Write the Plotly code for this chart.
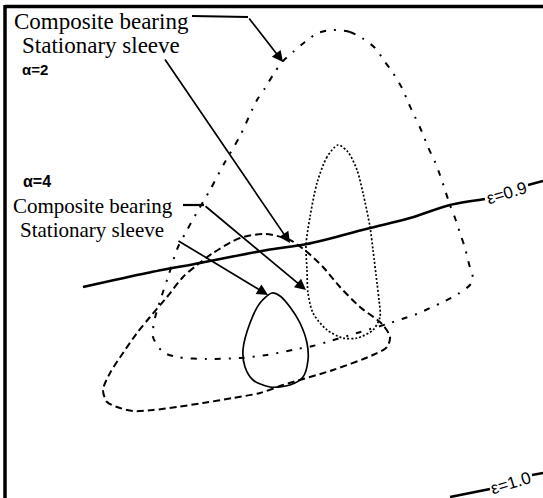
import plotly.graph_objects as go

# Orbit loci (x, y in plot units, y increasing downward)
alpha2_composite_x = [333, 350, 362, 375, 385, 393, 402, 408, 415, 422, 428, 435, 440, 445, 450, 455, 460, 465, 469, 473, 470, 458, 443, 430, 417, 402, 387, 357, 327, 313, 297, 267, 240, 207, 177, 163, 153, 155, 162, 168, 178, 186, 196, 210, 225, 240, 252, 257, 265, 273, 282, 293, 305, 318, 333]
alpha2_composite_y = [30, 32, 38, 48, 62, 73, 88, 102, 117, 132, 147, 162, 175, 190, 205, 218, 233, 248, 264, 279, 285, 294, 302, 308, 314, 319, 324, 333, 342, 346, 349, 355, 358, 359, 357, 352, 337, 318, 295, 277, 247, 232, 214, 190, 162, 136, 110, 100, 88, 75, 62, 52, 42, 33, 30]

alpha4_composite_x = [265, 240, 213, 197, 183, 167, 150, 137, 123, 110, 103, 107, 117, 133, 153, 177, 203, 233, 260, 283, 333, 373, 387, 390, 382, 360, 340, 323, 307, 290, 265]
alpha4_composite_y = [234, 238, 253, 265, 277, 297, 317, 333, 353, 373, 390, 402, 407, 411, 410, 407, 403, 398, 393, 385, 370, 355, 347, 337, 324, 307, 287, 267, 252, 240, 234]

alpha2_sleeve_x = [338, 327, 317, 310, 306, 307, 308, 313, 327, 343, 357, 373, 380, 379, 377, 373, 370, 363, 357, 348, 338]
alpha2_sleeve_y = [145, 157, 183, 217, 245, 270, 293, 313, 330, 338, 338, 330, 317, 300, 283, 250, 227, 193, 170, 152, 145]

alpha4_sleeve_x = [272, 260, 250, 243, 245, 253, 270, 290, 303, 308, 307, 300, 290, 280, 272]
alpha4_sleeve_y = [293, 303, 323, 350, 367, 380, 387, 385, 377, 360, 343, 323, 307, 296, 293]

# Eccentricity lines
eps09_x = [83, 147, 200, 267, 307, 370, 410, 450, 485]
eps09_y = [287, 273, 263, 250, 244, 228, 218, 205, 199]
eps09_tail_x = [528, 543]
eps09_tail_y = [185, 181]
eps10_x = [450, 490]
eps10_y = [497, 489]
eps10_tail_x = [532, 543]
eps10_tail_y = [475, 473]

serif = "Liberation Serif"
sans = "Liberation Sans"

fig = go.Figure()

def curve(x, y, dash, width, smooth=True):
    fig.add_trace(go.Scatter(
        x=x, y=y, mode="lines",
        line=dict(color="black", width=width, dash=dash,
                  shape="spline" if smooth else "linear", smoothing=0.8),
        hoverinfo="skip", showlegend=False))

curve(alpha2_composite_x, alpha2_composite_y, "6px,8px,2px,8px", 2.0)
curve(alpha4_composite_x, alpha4_composite_y, "7px,4px", 2.0)
curve(alpha2_sleeve_x, alpha2_sleeve_y, "2px,2px", 1.7)
curve(alpha4_sleeve_x, alpha4_sleeve_y, "solid", 1.7)
curve(eps09_x, eps09_y, "solid", 2.6)
curve(eps09_tail_x, eps09_tail_y, "solid", 2.4, False)
curve(eps10_x, eps10_y, "solid", 2.6, False)
curve(eps10_tail_x, eps10_tail_y, "solid", 2.4, False)

# Leader lines (horizontal stubs before the arrowed segments)
curve([192, 248], [16, 17], "solid", 2.2, False)
curve([183, 204], [205, 205], "solid", 2.2, False)

arrows = [
    ((248, 17), (283, 62)),
    ((164, 58), (290, 243)),
    ((204, 205), (306, 290)),
    ((177, 240), (268, 295)),
]
ann = []
for (ax, ay), (x, y) in arrows:
    ann.append(dict(x=x, y=y, ax=ax, ay=ay, xref="x", yref="y", axref="x", ayref="y",
                    text="", showarrow=True, arrowhead=2, arrowsize=1.3,
                    arrowwidth=1.7, arrowcolor="black", standoff=0))

labels = [
    ("Composite bearing", 13, 21, serif, 23, "normal"),
    ("Stationary sleeve", 21, 45, serif, 23, "normal"),
    ("α=2", 21, 69, sans, 15, "bold"),
    ("α=4", 22, 181, sans, 16, "bold"),
    ("Composite bearing", 12, 206, serif, 21, "normal"),
    ("Stationary sleeve", 19, 230, serif, 21, "normal"),
]
for t, x, y, f, s, w in labels:
    ann.append(dict(x=x, y=y, xref="x", yref="y", text=t, showarrow=False,
                    xanchor="left", yanchor="middle", borderpad=0,
                    font=dict(family=f, size=s, color="black", weight=w)))

for t, x, y in [("ε=0.9", 506, 193), ("ε=1.0", 510, 483)]:
    ann.append(dict(x=x, y=y, xref="x", yref="y", text=t, showarrow=False,
                    xanchor="center", yanchor="middle", textangle=-17, borderpad=0,
                    font=dict(family=sans, size=17, color="black")))

fig.update_layout(
    width=543, height=498,
    margin=dict(l=0, r=0, t=0, b=0),
    paper_bgcolor="white", plot_bgcolor="white",
    xaxis=dict(range=[0, 543], visible=False, fixedrange=True),
    yaxis=dict(range=[498, 0], visible=False, fixedrange=True),
    annotations=ann,
    shapes=[
        dict(type="line", xref="x", yref="y", x0=5, y0=6.5, x1=543, y1=6.5,
             line=dict(color="black", width=3.5)),
        dict(type="line", xref="x", yref="y", x0=5, y0=5, x1=5, y1=498,
             line=dict(color="black", width=3.5)),
    ],
)

fig.write_html("out.html")
